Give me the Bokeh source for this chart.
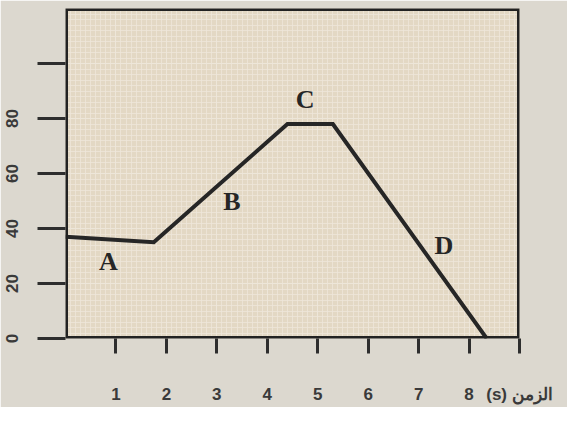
import numpy as np
from bokeh.plotting import figure
from bokeh.models import FixedTicker, ColumnDataSource, BoxAnnotation
from bokeh.core.properties import value
from bokeh.embed import file_html
from bokeh.resources import INLINE

# data
time_s = [0, 1.75, 4.4, 5.3, 8.35]
values = [37, 35, 78, 78, 0]
seg_names = ["A", "B", "C", "D"]
seg_label_t = [0.85, 3.3, 4.75, 7.5]
seg_label_v = [28, 50, 87, 34]
x_ticks = [1, 2, 3, 4, 5, 6, 7, 8]
y_ticks = [0, 20, 40, 60, 80, 100]
x_title = "(s) الزمن"
x_max = 9.0

p = figure(width=567, height=407, x_range=(0, x_max), y_range=(0, 120),
           output_backend="svg", toolbar_location=None,
           min_border_left=65, min_border_right=48, min_border_top=8,
           min_border_bottom=69)

p.background_fill_color = "#e3d8c4"
p.border_fill_color = "#dcd8cf"
p.outline_line_color = None

# the axis title sits in the tick-label row at the right end of the time axis
p.xaxis.ticker = FixedTicker(ticks=x_ticks + [x_max],
                             minor_ticks=list(np.arange(0, 9.01, 0.1)))
p.xaxis.major_label_overrides = {x_max: x_title}
p.yaxis.ticker = FixedTicker(ticks=y_ticks, minor_ticks=list(np.arange(0, 120.1, 2)))
p.yaxis.major_label_overrides = {100: ""}

for ax in (p.xaxis, p.yaxis):
    ax.axis_line_color = None
    ax.minor_tick_line_color = None
    ax.major_tick_line_color = "#2e2e2e"
    ax.major_tick_line_width = 3
    ax.major_tick_in = 0
    ax.major_label_text_font = "Liberation Sans"
    ax.major_label_text_font_size = "17px"
    ax.major_label_text_font_style = "bold"
    ax.major_label_text_color = "#3a3a3a"

p.xaxis.major_tick_out = 15
p.xaxis.major_label_standoff = 31
p.yaxis.major_tick_out = 28
p.yaxis.major_label_standoff = 20
p.yaxis.major_label_orientation = "vertical"

for g in (p.xgrid, p.ygrid):
    g.grid_line_color = "#ede6d9"
    g.grid_line_width = 1
    g.minor_grid_line_color = "#ede6d9"
    g.minor_grid_line_alpha = 0.8

p.add_layout(BoxAnnotation(fill_color=None, fill_alpha=0, line_color="#222222",
                           line_alpha=1.0, line_width=5))

src = ColumnDataSource(dict(t=time_s, v=values))
p.line("t", "v", source=src, line_color="#262626", line_width=4, line_join="miter")

lsrc = ColumnDataSource(dict(t=seg_label_t, v=seg_label_v, name=seg_names))
p.text("t", "v", text="name", source=lsrc, text_font=value("Liberation Serif"),
       text_font_style="bold", text_font_size="26px", text_color="#262626",
       text_align="center", text_baseline="middle")

open("out.html", "w").write(file_html(p, INLINE))
